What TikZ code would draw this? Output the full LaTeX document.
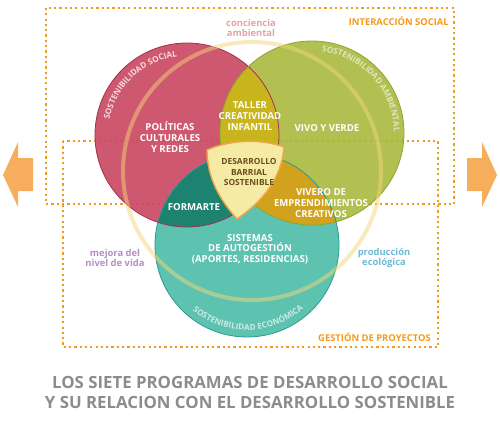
\documentclass[tikz,border=0pt]{standalone}
\usepackage{fontspec}
\setmainfont{Open Sans}
\usetikzlibrary{decorations.text}

\definecolor{rojo}{HTML}{C9465F}
\definecolor{rojoborde}{HTML}{A5304A}
\definecolor{verde}{HTML}{A9B93E}
\definecolor{verdeborde}{HTML}{8FA532}
\definecolor{turquesa}{HTML}{4DBBA9}
\definecolor{turqborde}{HTML}{2B9A8E}
\definecolor{amarillo}{HTML}{C8B41C}
\definecolor{tealoscuro}{HTML}{1E8270}
\definecolor{dorado}{HTML}{D2A21E}
\definecolor{escudo}{HTML}{F5EBA5}
\definecolor{escudoborde}{HTML}{F0A54A}
\definecolor{naranja}{HTML}{F39A1E}
\definecolor{flecha}{HTML}{F7AE5C}
\definecolor{anillo}{HTML}{F2D67A}
\definecolor{gristit}{HTML}{8C8C8C}
\definecolor{rosa}{HTML}{E8A0A8}
\definecolor{lila}{HTML}{B58CC4}
\definecolor{celeste}{HTML}{6CBAD6}
\definecolor{cafe}{HTML}{6B4E1E}

\begin{document}
\begin{tikzpicture}[x=1pt, y=-1pt, line join=round,
  lbl/.style={anchor=center, inner sep=0pt, align=center, text=white,
    font=\bfseries\fontsize{9.6}{10.6}\selectfont},
  nota/.style={anchor=center, inner sep=0pt, align=center,
    font=\bfseries\fontsize{9.4}{10.4}\selectfont},
  punteado/.style={draw=naranja, line width=2.2pt, dash pattern=on 2.2pt off 3.1pt}]

  % ════ 两个虚线框（interacción / gestión）════
  \draw[punteado] (46,8) rectangle (454,204);
  \draw[punteado] (63,141) rectangle (438,347);

  % ════ 三个圆心 ════
  \coordinate (cR) at (187,135);
  \coordinate (cV) at (312,133);
  \coordinate (cT) at (247,245);
  \coordinate (cA) at (252,171);

  % ════ 三个圆 ════
  \fill[rojo, opacity=0.9] (cR) circle (92);
  \fill[verde, opacity=0.9] (cV) circle (92);
  \fill[turquesa, opacity=0.9] (cT) circle (92);

  % ════ 交集 ════
  \begin{scope}
    \clip (cR) circle (92);
    \fill[amarillo] (cV) circle (92);
    \fill[tealoscuro] (cT) circle (92);
  \end{scope}
  \begin{scope}
    \clip (cV) circle (92);
    \fill[dorado] (cT) circle (92);
  \end{scope}

  % ════ 圆边 ════
  \draw[rojoborde, line width=0.8pt] (cR) circle (92);
  \draw[verdeborde, line width=0.8pt] (cV) circle (92);
  \draw[turqborde, line width=0.8pt] (cT) circle (92);

  % ════ 大圆环 ════
  \draw[anillo, line width=4pt, opacity=0.5] (cA) circle (129);

  % ════ 中间盾形 ════
  \draw[fill=escudo, draw=escudoborde, line width=1.4pt]
    (207,150) .. controls (232,139) and (262,139) .. (284,147)
    .. controls (282,178) and (262,202) .. (237,219)
    .. controls (220,200) and (207,178) .. cycle;

  % ════ 沿圆弧的文字 ════
  \path[decorate, decoration={text along path, text align=center,
    text={|\bfseries\fontsize{8.2}{9}\selectfont\color{white!80!rojo}|SOSTENIBILIDAD SOCIAL}}]
    (cR) ++(186:79) arc (186:268:79);
  \path[decorate, decoration={text along path, text align=center,
    text={|\bfseries\fontsize{8.2}{9}\selectfont\color{white!65!verde}|SOSTENIBILIDAD AMBIENTAL}}]
    (cV) ++(270:82) arc (270:366:82);
  \path[decorate, decoration={text along path, text align=center,
    text={|\bfseries\fontsize{8.2}{9}\selectfont\color{white!70!turquesa}|SOSTENIBILIDAD ECONÓMICA}}]
    (cT) ++(136:85) arc (136:42:85);

  % ════ 标签 ════
  \node[lbl] (politicas) at (170,137) {POLÍTICAS\\CULTURALES\\Y REDES};
  \node[lbl] (taller) at (250,116) {TALLER\\CREATIVIDAD\\INFANTIL};
  \node[lbl] (vivo) at (327,128) {VIVO Y VERDE};
  \node[lbl, text=cafe, font=\bfseries\fontsize{8.4}{10.4}\selectfont] (desarrollo) at (249,172) {DESARROLLO\\BARRIAL\\SOSTENIBLE};
  \node[lbl] (formarte) at (194,207) {FORMARTE};
  \node[lbl] (vivero) at (321,203) {VIVERO DE\\EMPRENDIMIENTOS\\CREATIVOS};
  \node[lbl] (sistemas) at (250,249) {SISTEMAS\\DE AUTOGESTIÓN\\(APORTES, RESIDENCIAS)};

  \node[nota, text=rosa] (conciencia) at (251,28) {conciencia\\ambiental};
  \node[nota, text=lila] (mejora) at (115,258) {mejora del\\nivel de vida};
  \node[nota, text=celeste] (produccion) at (384,258) {producción\\ecológica};
  \node[nota, text=naranja, anchor=east] (interaccion) at (449,21) {INTERACCIÓN SOCIAL};
  \node[nota, text=naranja, anchor=east] (gestion) at (431,337) {GESTIÓN DE PROYECTOS};

  % ════ 两侧箭头 ════
  \fill[flecha] (3,175) -- (18,142) -- (18,158) -- (33,158) -- (33,191) -- (18,191) -- (18,207) -- cycle;
  \fill[flecha] (497,175) -- (482,142) -- (482,158) -- (467,158) -- (467,191) -- (482,191) -- (482,207) -- cycle;

  % ════ 标题 ════
  \node[anchor=center, inner sep=0pt, align=center, text=gristit,
    font=\bfseries\fontsize{16.8}{20}\selectfont] (titulo) at (250,392)
    {LOS SIETE PROGRAMAS DE DESARROLLO SOCIAL\\Y SU RELACION CON EL DESARROLLO SOSTENIBLE};

  \path[use as bounding box] (0,0) rectangle (500,420);
\end{tikzpicture}
\end{document}
